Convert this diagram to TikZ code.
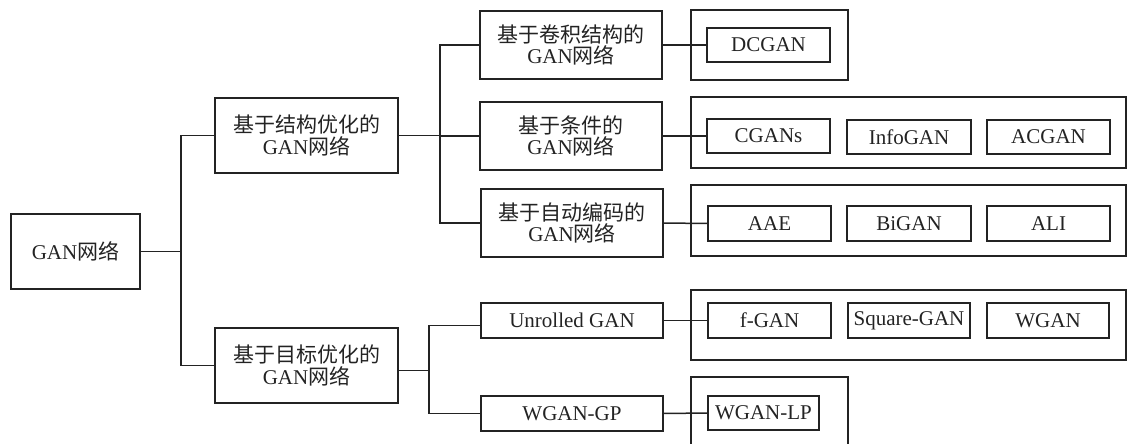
\documentclass[tikz,border=0pt]{standalone}
\usepackage{fontspec}
\setmainfont{Liberation Serif}
\newfontfamily\cjk{Noto Sans CJK SC}
\definecolor{ink}{RGB}{35,35,35}
\begin{document}
\begin{tikzpicture}[x=1pt,y=-1pt,
  every node/.style={inner sep=0pt, outer sep=0pt, text=ink, font=\fontsize{21}{21.5}\selectfont},
  bx/.style={draw=ink, line width=1.5pt, align=center},
  grp/.style={draw=ink, line width=1.5pt},
  ln/.style={draw=ink, line width=1.5pt}]
\clip (0,0) rectangle (1127,444);
% main boxes
\node[bx, minimum width=129, minimum height=75] (root) at (75.5,251.5) {GAN{\cjk 网络}};
\node[bx, minimum width=183, minimum height=75] (s1) at (306.5,135.5) {{\cjk 基于结构优化的}\\GAN{\cjk 网络}};
\node[bx, minimum width=183, minimum height=75] (s2) at (306.5,365.5) {{\cjk 基于目标优化的}\\GAN{\cjk 网络}};
\node[bx, minimum width=182, minimum height=68] (c1) at (571,45) {{\cjk 基于卷积结构的}\\GAN{\cjk 网络}};
\node[bx, minimum width=182, minimum height=68] (c2) at (571,136) {{\cjk 基于条件的}\\GAN{\cjk 网络}};
\node[bx, minimum width=182, minimum height=68] (c3) at (572,223) {{\cjk 基于自动编码的}\\GAN{\cjk 网络}};
\node[bx, minimum width=182, minimum height=35] (u) at (572,320.5) {Unrolled GAN};
\node[bx, minimum width=182, minimum height=35] (wgp) at (572,413.5) {WGAN-GP};
% group boxes
\node[grp, minimum width=157, minimum height=70] (g1) at (769.5,45) {};
\node[grp, minimum width=435, minimum height=71] (g2) at (908.5,132.5) {};
\node[grp, minimum width=435, minimum height=71] (g3) at (908.5,220.5) {};
\node[grp, minimum width=435, minimum height=70] (g4) at (908.5,325) {};
\node[grp, minimum width=157, minimum height=93] (g5) at (769.5,423.5) {};
% leaf boxes
\node[bx, minimum width=123, minimum height=34] (dc) at (768.5,45) {DCGAN};
\node[bx, minimum width=123, minimum height=34] (cg) at (768.5,136) {CGANs};
\node[bx, minimum width=124, minimum height=34] (info) at (909,137) {InfoGAN};
\node[bx, minimum width=123, minimum height=34] (acg) at (1048.5,137) {ACGAN};
\node[bx, minimum width=123, minimum height=35] (aae) at (769.5,223.5) {AAE};
\node[bx, minimum width=124, minimum height=35] (bi) at (909,223.5) {BiGAN};
\node[bx, minimum width=123, minimum height=35] (ali) at (1048.5,223.5) {ALI};
\node[bx, minimum width=123, minimum height=35] (fg) at (769.5,320.5) {f-GAN};
\node[bx, minimum width=122, minimum height=35] (sq) at (909,320.5) {Square-GAN};
\node[bx, minimum width=122, minimum height=35] (wg) at (1048,320.5) {WGAN};
\node[bx, minimum width=111, minimum height=34] (wlp) at (763.5,413) {WGAN-LP};
% bus coordinates
\coordinate (j1) at (181,0);
\coordinate (j2) at (440,0);
\coordinate (j3) at (429,0);
% connectors
\draw[ln] (root.east) -- (root.east -| j1);
\draw[ln] (s1.west) -- (s1.west -| j1) |- (s2.west);
\draw[ln] (s1.east) -- (s1.east -| j2);
\draw[ln] (c1.west) -- (c1.west -| j2) |- (c3.west);
\draw[ln] (c2.west) -- (c2.west -| j2);
\draw[ln] ([yshift=-5pt]s2.east) -- ([yshift=-5pt]s2.east -| j3);
\draw[ln] ([yshift=-5pt]u.west) -- ([yshift=-5pt]u.west -| j3) |- (wgp.west);
\draw[ln] (c1.east) -- (dc.west);
\draw[ln] (c2.east) -- (cg.west);
\draw[ln] (c3.east) -- (aae.west);
\draw[ln] (u.east) -- (fg.west);
\draw[ln] (wgp.east) -- (wlp.west);
\end{tikzpicture}
\end{document}
